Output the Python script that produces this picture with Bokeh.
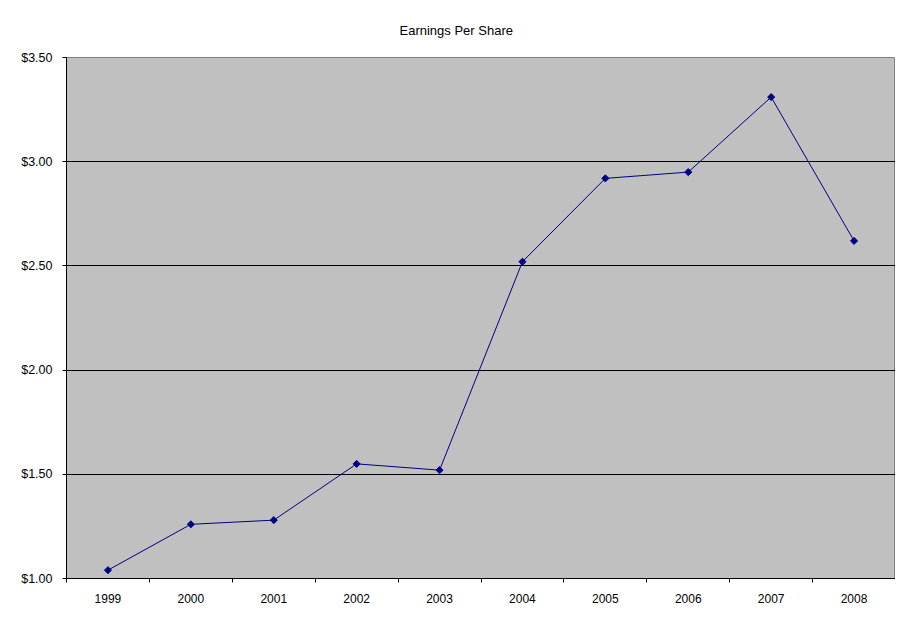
import math
from bokeh.plotting import figure
from bokeh.models import FixedTicker, NumeralTickFormatter, Range1d
from bokeh.embed import file_html
from bokeh.resources import INLINE

years = [1999, 2000, 2001, 2002, 2003, 2004, 2005, 2006, 2007, 2008]
eps = [1.04, 1.26, 1.28, 1.55, 1.52, 2.52, 2.92, 2.95, 3.31, 2.62]
y_ticks = [1.0, 1.5, 2.0, 2.5, 3.0, 3.5]
title_text = "Earnings Per Share"

FONT = "Liberation Sans"

p = figure(width=895, height=607, output_backend="svg", toolbar_location=None,
           x_range=Range1d(years[0] - 0.5, years[-1] + 0.5),
           y_range=Range1d(y_ticks[0], y_ticks[-1]),
           min_border_left=66, min_border_right=0, min_border_top=57, min_border_bottom=29)
p.frame_width = 829
p.frame_height = 521

p.title.text = title_text
p.title.align = "left"
p.title.offset = 333
p.title.text_font = FONT
p.title.text_font_size = "13px"
p.title.text_font_style = "normal"
p.title.text_color = "black"
p.title.standoff = 40

p.background_fill_color = "#C0C0C0"
p.border_fill_color = "white"
p.outline_line_color = "#808080"
p.outline_line_width = 1

p.xgrid.visible = False
p.ygrid.ticker = FixedTicker(ticks=y_ticks[1:-1])
p.ygrid.grid_line_color = "black"
p.ygrid.grid_line_width = 1

# y axis
p.yaxis.ticker = FixedTicker(ticks=y_ticks)
p.yaxis.formatter = NumeralTickFormatter(format="$0.00")
p.yaxis.major_tick_in = 0
p.yaxis.major_tick_out = 4
p.yaxis.minor_tick_line_color = None
p.yaxis.axis_line_color = "black"
p.yaxis.major_label_text_font = FONT
p.yaxis.major_label_text_font_size = "12.5px"
p.yaxis.major_label_text_color = "black"
p.yaxis.major_label_standoff = 10

# x axis: labels at year centers, ticks between years
p.xaxis.ticker = FixedTicker(ticks=years,
                             minor_ticks=[y - 0.5 for y in years] + [years[-1] + 0.5])
p.xaxis.major_tick_line_color = None
p.xaxis.minor_tick_in = 0
p.xaxis.minor_tick_out = 4
p.xaxis.minor_tick_line_color = "black"
p.xaxis.axis_line_color = "black"
p.xaxis.major_label_text_font = FONT
p.xaxis.major_label_text_font_size = "12px"
p.xaxis.major_label_text_color = "black"
p.xaxis.major_label_standoff = 9

p.line(years, eps, line_color="#000080", line_width=1)
p.scatter(years, eps, marker="square", size=5, angle=math.pi / 4,
          fill_color="#000080", line_color="#000080")

open("out.html", "w").write(file_html(p, INLINE))
